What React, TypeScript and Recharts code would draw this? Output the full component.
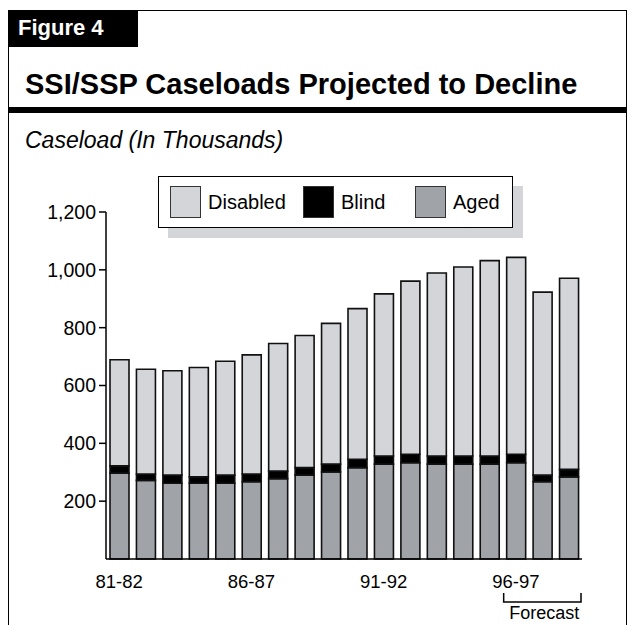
import React from 'react';
import {
  BarChart,
  Bar,
  XAxis,
  YAxis,
  ReferenceArea,
} from 'recharts';

// Fiscal years, caseload in thousands
const YEARS = [
  '81-82', '82-83', '83-84', '84-85', '85-86', '86-87', '87-88', '88-89', '89-90',
  '90-91', '91-92', '92-93', '93-94', '94-95', '95-96', '96-97', '97-98', '98-99',
];
const AGED = [297, 272, 262, 262, 262, 267, 278, 290, 301, 316, 328, 333, 328, 328, 328, 333, 267, 284];
const BLIND = [25, 22, 28, 22, 28, 27, 26, 26, 27, 29, 28, 29, 28, 28, 28, 29, 23, 26];
const DISABLED = [367, 362, 361, 378, 394, 412, 441, 457, 487, 521, 561, 599, 633, 654, 676, 681, 633, 661];
const Y_TICKS = [200, 400, 600, 800, 1000, 1200];
const FORECAST_START = '96-97';
const FORECAST_END = '98-99';

const data = YEARS.map((year, i) => ({
  year,
  aged: AGED[i],
  blind: BLIND[i],
  disabled: DISABLED[i],
}));

const FONT = '"Liberation Sans", Arial, Helvetica, sans-serif';
const LIGHT = '#d3d5d9';
const MID = '#a0a3a8';

const legendItems = [
  { name: 'Disabled', fill: LIGHT, width: 133 },
  { name: 'Blind', fill: '#000', width: 112 },
  { name: 'Aged', fill: MID, width: 90 },
];

function ForecastBracket(props: any) {
  const { x, y, width, height } = props;
  const left = x + 1;
  const right = x + width - 1;
  const base = y + height;
  return (
    <g>
      <path
        d={`M${left},${base + 34} V${base + 43} H${right} V${base + 34}`}
        fill="none"
        stroke="#000"
        strokeWidth={1.5}
      />
      <text
        x={x + width / 2 + 2}
        y={base + 60}
        textAnchor="middle"
        fontFamily={FONT}
        fontSize={18}
        fill="#000"
      >
        Forecast
      </text>
    </g>
  );
}

function Legend() {
  return (
    <>
      <div
        style={{
          position: 'absolute',
          left: 168,
          top: 186,
          width: 355,
          height: 52,
          background: LIGHT,
        }}
      />
      <div
        style={{
          position: 'absolute',
          left: 158,
          top: 176,
          width: 355,
          height: 52,
          boxSizing: 'border-box',
          border: '1.5px solid #000',
          background: '#fff',
          display: 'flex',
          alignItems: 'center',
          paddingLeft: 11,
        }}
      >
        {legendItems.map((item) => (
          <div
            key={item.name}
            style={{ display: 'flex', alignItems: 'center', width: item.width }}
          >
            <div
              style={{
                width: 31,
                height: 32,
                boxSizing: 'border-box',
                background: item.fill,
                border: '1px solid #333',
                marginRight: 7,
              }}
            />
            <span style={{ fontSize: 20, fontFamily: FONT, color: '#000' }}>{item.name}</span>
          </div>
        ))}
      </div>
    </>
  );
}

export default function App() {
  return (
    <div
      style={{
        position: 'absolute',
        left: 0,
        top: 0,
        width: 628,
        height: 625,
        background: '#fff',
        overflow: 'hidden',
        fontFamily: FONT,
      }}
    >
      {/* outer frame, open at the bottom */}
      <div
        style={{
          position: 'absolute',
          left: 8,
          top: 10,
          width: 619,
          height: 640,
          boxSizing: 'border-box',
          border: '1.5px solid #000',
        }}
      />
      <div
        style={{
          position: 'absolute',
          left: 8,
          top: 10,
          width: 130,
          height: 37,
          background: '#000',
        }}
      />
      <div
        style={{
          position: 'absolute',
          left: 18,
          top: 17,
          color: '#fff',
          fontWeight: 'bold',
          fontSize: 22,
          lineHeight: 1,
        }}
      >
        Figure 4
      </div>
      <div
        style={{
          position: 'absolute',
          left: 25,
          top: 70,
          fontWeight: 'bold',
          fontSize: 29,
          lineHeight: 1,
          color: '#000',
          whiteSpace: 'nowrap',
        }}
      >
        SSI/SSP Caseloads Projected to Decline
      </div>
      <div
        style={{
          position: 'absolute',
          left: 8,
          top: 107,
          width: 619,
          height: 6,
          background: '#000',
        }}
      />
      <div
        style={{
          position: 'absolute',
          left: 25,
          top: 129,
          fontStyle: 'italic',
          fontSize: 23,
          lineHeight: 1,
          color: '#000',
          whiteSpace: 'nowrap',
        }}
      >
        Caseload (In Thousands)
      </div>

      <div style={{ position: 'absolute', left: 0, top: 0 }}>
        <BarChart
          width={628}
          height={625}
          data={data}
          margin={{ top: 212, right: 46, bottom: 36, left: 8 }}
        >
          <XAxis
            dataKey="year"
            height={30}
            interval={4}
            tickLine={false}
            tickSize={0}
            tickMargin={16}
            axisLine={{ stroke: '#000', strokeWidth: 1.5 }}
            tick={{ fill: '#000', fontSize: 18.5, fontFamily: FONT }}
          />
          <YAxis
            width={98}
            domain={[0, 1200]}
            ticks={Y_TICKS}
            tickSize={7}
            tickMargin={3}
            tickFormatter={(v: number) => v.toLocaleString('en-US')}
            axisLine={{ stroke: '#000', strokeWidth: 1.5 }}
            tickLine={{ stroke: '#000', strokeWidth: 1.5 }}
            tick={{ fill: '#000', fontSize: 19.5, fontFamily: FONT }}
          />
          <Bar dataKey="aged" stackId="a" fill={MID} stroke="#111" strokeWidth={1.6} barSize={19} isAnimationActive={false} />
          <Bar dataKey="blind" stackId="a" fill="#000" stroke="#111" strokeWidth={1.6} barSize={19} isAnimationActive={false} />
          <Bar dataKey="disabled" stackId="a" fill={LIGHT} stroke="#111" strokeWidth={1.6} barSize={19} isAnimationActive={false} />
          <ReferenceArea
            x1={FORECAST_START}
            x2={FORECAST_END}
            y1={0}
            y2={50}
            ifOverflow="visible"
            shape={ForecastBracket}
          />
        </BarChart>
      </div>

      <Legend />
    </div>
  );
}
